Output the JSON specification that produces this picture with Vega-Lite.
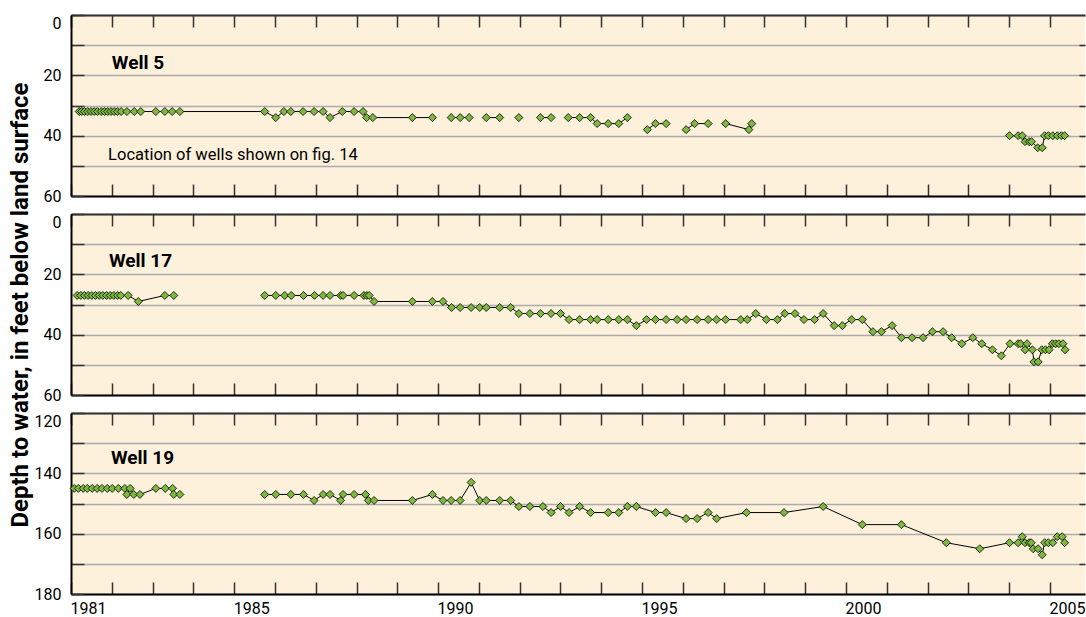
{
  "$schema": "https://vega.github.io/schema/vega-lite/v6.json",
  "padding": {"top": 14, "left": 8, "right": 0, "bottom": 0},
  "spacing": 18,
  "bounds": "flush",
  "config": {
    "font": "Roboto",
    "view": {"fill": "#FDF1DC", "stroke": null},
    "axis": {"labelFont": "Roboto", "titleFont": "Roboto", "labelColor": "black", "titleColor": "black"}
  },
  "datasets": {
    "w5": [
      {"year": 1981.2, "depth": 32, "seg": 1}, {"year": 1981.26, "depth": 32, "seg": 1}, {"year": 1981.33, "depth": 32, "seg": 1}, {"year": 1981.41, "depth": 32, "seg": 1},
      {"year": 1981.49, "depth": 32, "seg": 1}, {"year": 1981.57, "depth": 32, "seg": 1}, {"year": 1981.65, "depth": 32, "seg": 1}, {"year": 1981.74, "depth": 32, "seg": 1},
      {"year": 1981.82, "depth": 32, "seg": 1}, {"year": 1981.9, "depth": 32, "seg": 1}, {"year": 1981.98, "depth": 32, "seg": 1}, {"year": 1982.06, "depth": 32, "seg": 1},
      {"year": 1982.14, "depth": 32, "seg": 1}, {"year": 1982.23, "depth": 32, "seg": 1}, {"year": 1982.37, "depth": 32, "seg": 1}, {"year": 1982.55, "depth": 32, "seg": 1},
      {"year": 1982.71, "depth": 32, "seg": 1}, {"year": 1983.08, "depth": 32, "seg": 1}, {"year": 1983.3, "depth": 32, "seg": 1}, {"year": 1983.48, "depth": 32, "seg": 1},
      {"year": 1983.67, "depth": 32, "seg": 1}, {"year": 1985.75, "depth": 32, "seg": 1}, {"year": 1986.02, "depth": 34, "seg": 1}, {"year": 1986.22, "depth": 32, "seg": 1},
      {"year": 1986.39, "depth": 32, "seg": 1}, {"year": 1986.69, "depth": 32, "seg": 1}, {"year": 1986.96, "depth": 32, "seg": 1}, {"year": 1987.18, "depth": 32, "seg": 1},
      {"year": 1987.35, "depth": 34, "seg": 1}, {"year": 1987.65, "depth": 32, "seg": 1}, {"year": 1987.94, "depth": 32, "seg": 1}, {"year": 1988.16, "depth": 32, "seg": 1},
      {"year": 1988.25, "depth": 34, "seg": 1}, {"year": 1988.4, "depth": 34, "seg": 1}, {"year": 1989.37, "depth": 34, "seg": 1}, {"year": 1989.86, "depth": 34, "seg": 1},
      {"year": 1990.32, "depth": 34, "seg": 2}, {"year": 1990.54, "depth": 34, "seg": 2}, {"year": 1990.76, "depth": 34, "seg": 2},
      {"year": 1991.18, "depth": 34, "seg": 3}, {"year": 1991.51, "depth": 34, "seg": 3},
      {"year": 1991.98, "depth": 34, "seg": 4},
      {"year": 1992.51, "depth": 34, "seg": 5}, {"year": 1992.77, "depth": 34, "seg": 5},
      {"year": 1993.19, "depth": 34, "seg": 6}, {"year": 1993.47, "depth": 34, "seg": 6}, {"year": 1993.74, "depth": 34, "seg": 6}, {"year": 1993.9, "depth": 36, "seg": 6},
      {"year": 1994.17, "depth": 36, "seg": 6}, {"year": 1994.43, "depth": 36, "seg": 6}, {"year": 1994.64, "depth": 34, "seg": 6},
      {"year": 1995.13, "depth": 38, "seg": 7}, {"year": 1995.33, "depth": 36, "seg": 7}, {"year": 1995.59, "depth": 36, "seg": 7},
      {"year": 1996.08, "depth": 38, "seg": 8}, {"year": 1996.29, "depth": 36, "seg": 8}, {"year": 1996.62, "depth": 36, "seg": 8},
      {"year": 1997.05, "depth": 36, "seg": 9}, {"year": 1997.62, "depth": 38, "seg": 9}, {"year": 1997.69, "depth": 36, "seg": 9},
      {"year": 2004.01, "depth": 40, "seg": 10}, {"year": 2004.22, "depth": 40, "seg": 10}, {"year": 2004.32, "depth": 40, "seg": 10}, {"year": 2004.39, "depth": 42, "seg": 10},
      {"year": 2004.49, "depth": 42, "seg": 10}, {"year": 2004.55, "depth": 42, "seg": 10}, {"year": 2004.7, "depth": 44, "seg": 10}, {"year": 2004.81, "depth": 44, "seg": 10},
      {"year": 2004.87, "depth": 40, "seg": 10}, {"year": 2004.96, "depth": 40, "seg": 10}, {"year": 2005.07, "depth": 40, "seg": 10}, {"year": 2005.18, "depth": 40, "seg": 10},
      {"year": 2005.28, "depth": 40, "seg": 10}, {"year": 2005.36, "depth": 40, "seg": 10}
    ],
    "w17": [
      {"year": 1981.15, "depth": 27, "seg": 1}, {"year": 1981.24, "depth": 27, "seg": 1}, {"year": 1981.33, "depth": 27, "seg": 1}, {"year": 1981.42, "depth": 27, "seg": 1},
      {"year": 1981.51, "depth": 27, "seg": 1}, {"year": 1981.6, "depth": 27, "seg": 1}, {"year": 1981.69, "depth": 27, "seg": 1}, {"year": 1981.78, "depth": 27, "seg": 1},
      {"year": 1981.87, "depth": 27, "seg": 1}, {"year": 1981.96, "depth": 27, "seg": 1}, {"year": 1982.05, "depth": 27, "seg": 1}, {"year": 1982.14, "depth": 27, "seg": 1},
      {"year": 1982.22, "depth": 27, "seg": 1}, {"year": 1982.4, "depth": 27, "seg": 1}, {"year": 1982.65, "depth": 29, "seg": 1}, {"year": 1983.3, "depth": 27, "seg": 1},
      {"year": 1983.52, "depth": 27, "seg": 1},
      {"year": 1985.75, "depth": 27, "seg": 2}, {"year": 1986.02, "depth": 27, "seg": 2}, {"year": 1986.24, "depth": 27, "seg": 2}, {"year": 1986.4, "depth": 27, "seg": 2},
      {"year": 1986.7, "depth": 27, "seg": 2}, {"year": 1986.97, "depth": 27, "seg": 2}, {"year": 1987.18, "depth": 27, "seg": 2}, {"year": 1987.35, "depth": 27, "seg": 2},
      {"year": 1987.61, "depth": 27, "seg": 2}, {"year": 1987.67, "depth": 27, "seg": 2}, {"year": 1987.94, "depth": 27, "seg": 2}, {"year": 1988.18, "depth": 27, "seg": 2},
      {"year": 1988.25, "depth": 27, "seg": 2}, {"year": 1988.31, "depth": 27, "seg": 2}, {"year": 1988.43, "depth": 29, "seg": 2}, {"year": 1989.37, "depth": 29, "seg": 2},
      {"year": 1989.86, "depth": 29, "seg": 2}, {"year": 1990.12, "depth": 29, "seg": 2}, {"year": 1990.33, "depth": 31, "seg": 2}, {"year": 1990.54, "depth": 31, "seg": 2},
      {"year": 1990.81, "depth": 31, "seg": 2}, {"year": 1991.02, "depth": 31, "seg": 2}, {"year": 1991.18, "depth": 31, "seg": 2}, {"year": 1991.51, "depth": 31, "seg": 2},
      {"year": 1991.78, "depth": 31, "seg": 2}, {"year": 1991.98, "depth": 33, "seg": 2}, {"year": 1992.25, "depth": 33, "seg": 2}, {"year": 1992.51, "depth": 33, "seg": 2},
      {"year": 1992.77, "depth": 33, "seg": 2}, {"year": 1993.0, "depth": 33, "seg": 2}, {"year": 1993.21, "depth": 35, "seg": 2}, {"year": 1993.47, "depth": 35, "seg": 2},
      {"year": 1993.74, "depth": 35, "seg": 2}, {"year": 1993.9, "depth": 35, "seg": 2}, {"year": 1994.17, "depth": 35, "seg": 2}, {"year": 1994.43, "depth": 35, "seg": 2},
      {"year": 1994.64, "depth": 35, "seg": 2}, {"year": 1994.86, "depth": 37, "seg": 2}, {"year": 1995.11, "depth": 35, "seg": 2}, {"year": 1995.33, "depth": 35, "seg": 2},
      {"year": 1995.59, "depth": 35, "seg": 2}, {"year": 1995.86, "depth": 35, "seg": 2}, {"year": 1996.08, "depth": 35, "seg": 2}, {"year": 1996.35, "depth": 35, "seg": 2},
      {"year": 1996.62, "depth": 35, "seg": 2}, {"year": 1996.83, "depth": 35, "seg": 2}, {"year": 1997.05, "depth": 35, "seg": 2}, {"year": 1997.42, "depth": 35, "seg": 2},
      {"year": 1997.58, "depth": 35, "seg": 2}, {"year": 1997.79, "depth": 33, "seg": 2}, {"year": 1998.05, "depth": 35, "seg": 2}, {"year": 1998.32, "depth": 35, "seg": 2},
      {"year": 1998.5, "depth": 33, "seg": 2}, {"year": 1998.75, "depth": 33, "seg": 2}, {"year": 1998.97, "depth": 35, "seg": 2}, {"year": 1999.23, "depth": 35, "seg": 2},
      {"year": 1999.44, "depth": 33, "seg": 2}, {"year": 1999.71, "depth": 37, "seg": 2}, {"year": 1999.91, "depth": 37, "seg": 2}, {"year": 2000.14, "depth": 35, "seg": 2},
      {"year": 2000.4, "depth": 35, "seg": 2}, {"year": 2000.66, "depth": 39, "seg": 2}, {"year": 2000.87, "depth": 39, "seg": 2}, {"year": 2001.13, "depth": 37, "seg": 2},
      {"year": 2001.36, "depth": 41, "seg": 2}, {"year": 2001.62, "depth": 41, "seg": 2}, {"year": 2001.89, "depth": 41, "seg": 2}, {"year": 2002.12, "depth": 39, "seg": 2},
      {"year": 2002.38, "depth": 39, "seg": 2}, {"year": 2002.59, "depth": 41, "seg": 2}, {"year": 2002.84, "depth": 43, "seg": 2}, {"year": 2003.11, "depth": 41, "seg": 2},
      {"year": 2003.33, "depth": 43, "seg": 2}, {"year": 2003.59, "depth": 45, "seg": 2}, {"year": 2003.81, "depth": 47, "seg": 2}, {"year": 2004.02, "depth": 43, "seg": 2},
      {"year": 2004.22, "depth": 43, "seg": 2}, {"year": 2004.28, "depth": 43, "seg": 2}, {"year": 2004.39, "depth": 45, "seg": 2}, {"year": 2004.44, "depth": 43, "seg": 2},
      {"year": 2004.57, "depth": 45, "seg": 2}, {"year": 2004.61, "depth": 49, "seg": 2}, {"year": 2004.71, "depth": 49, "seg": 2}, {"year": 2004.8, "depth": 45, "seg": 2},
      {"year": 2004.89, "depth": 45, "seg": 2}, {"year": 2004.98, "depth": 45, "seg": 2}, {"year": 2005.06, "depth": 43, "seg": 2}, {"year": 2005.14, "depth": 43, "seg": 2},
      {"year": 2005.22, "depth": 43, "seg": 2}, {"year": 2005.32, "depth": 43, "seg": 2}, {"year": 2005.37, "depth": 45, "seg": 2}
    ],
    "w19": [
      {"year": 1981.08, "depth": 145, "seg": 1}, {"year": 1981.18, "depth": 145, "seg": 1}, {"year": 1981.3, "depth": 145, "seg": 1}, {"year": 1981.4, "depth": 145, "seg": 1},
      {"year": 1981.52, "depth": 145, "seg": 1}, {"year": 1981.64, "depth": 145, "seg": 1}, {"year": 1981.76, "depth": 145, "seg": 1}, {"year": 1981.89, "depth": 145, "seg": 1},
      {"year": 1982.01, "depth": 145, "seg": 1}, {"year": 1982.16, "depth": 145, "seg": 1}, {"year": 1982.32, "depth": 145, "seg": 1}, {"year": 1982.37, "depth": 147, "seg": 1},
      {"year": 1982.45, "depth": 145, "seg": 1}, {"year": 1982.54, "depth": 147, "seg": 1}, {"year": 1982.69, "depth": 147, "seg": 1}, {"year": 1983.08, "depth": 145, "seg": 1},
      {"year": 1983.31, "depth": 145, "seg": 1}, {"year": 1983.49, "depth": 145, "seg": 1}, {"year": 1983.52, "depth": 147, "seg": 1}, {"year": 1983.67, "depth": 147, "seg": 1},
      {"year": 1985.75, "depth": 147, "seg": 2}, {"year": 1986.02, "depth": 147, "seg": 2}, {"year": 1986.39, "depth": 147, "seg": 2}, {"year": 1986.7, "depth": 147, "seg": 2},
      {"year": 1986.96, "depth": 149, "seg": 2}, {"year": 1987.18, "depth": 147, "seg": 2}, {"year": 1987.35, "depth": 147, "seg": 2}, {"year": 1987.61, "depth": 149, "seg": 2},
      {"year": 1987.67, "depth": 147, "seg": 2}, {"year": 1987.94, "depth": 147, "seg": 2}, {"year": 1988.22, "depth": 147, "seg": 2}, {"year": 1988.29, "depth": 149, "seg": 2},
      {"year": 1988.43, "depth": 149, "seg": 2}, {"year": 1989.37, "depth": 149, "seg": 2}, {"year": 1989.86, "depth": 147, "seg": 2}, {"year": 1990.12, "depth": 149, "seg": 2},
      {"year": 1990.32, "depth": 149, "seg": 2}, {"year": 1990.54, "depth": 149, "seg": 2}, {"year": 1990.81, "depth": 143, "seg": 2}, {"year": 1991.02, "depth": 149, "seg": 2},
      {"year": 1991.18, "depth": 149, "seg": 2}, {"year": 1991.51, "depth": 149, "seg": 2}, {"year": 1991.78, "depth": 149, "seg": 2}, {"year": 1991.98, "depth": 151, "seg": 2},
      {"year": 1992.25, "depth": 151, "seg": 2}, {"year": 1992.57, "depth": 151, "seg": 2}, {"year": 1992.77, "depth": 153, "seg": 2}, {"year": 1993.0, "depth": 151, "seg": 2},
      {"year": 1993.21, "depth": 153, "seg": 2}, {"year": 1993.47, "depth": 151, "seg": 2}, {"year": 1993.74, "depth": 153, "seg": 2}, {"year": 1994.17, "depth": 153, "seg": 2},
      {"year": 1994.43, "depth": 153, "seg": 2}, {"year": 1994.64, "depth": 151, "seg": 2}, {"year": 1994.86, "depth": 151, "seg": 2}, {"year": 1995.33, "depth": 153, "seg": 2},
      {"year": 1995.59, "depth": 153, "seg": 2}, {"year": 1996.08, "depth": 155, "seg": 2}, {"year": 1996.35, "depth": 155, "seg": 2}, {"year": 1996.62, "depth": 153, "seg": 2},
      {"year": 1996.83, "depth": 155, "seg": 2}, {"year": 1997.56, "depth": 153, "seg": 2}, {"year": 1998.48, "depth": 153, "seg": 2}, {"year": 1999.44, "depth": 151, "seg": 2},
      {"year": 2000.4, "depth": 157, "seg": 2}, {"year": 2001.36, "depth": 157, "seg": 2}, {"year": 2002.46, "depth": 163, "seg": 2}, {"year": 2003.28, "depth": 165, "seg": 2},
      {"year": 2004.01, "depth": 163, "seg": 2}, {"year": 2004.22, "depth": 163, "seg": 2}, {"year": 2004.32, "depth": 161, "seg": 2}, {"year": 2004.39, "depth": 163, "seg": 2},
      {"year": 2004.49, "depth": 163, "seg": 2}, {"year": 2004.54, "depth": 163, "seg": 2}, {"year": 2004.59, "depth": 165, "seg": 2}, {"year": 2004.71, "depth": 165, "seg": 2},
      {"year": 2004.81, "depth": 167, "seg": 2}, {"year": 2004.87, "depth": 163, "seg": 2}, {"year": 2004.96, "depth": 163, "seg": 2}, {"year": 2005.07, "depth": 163, "seg": 2},
      {"year": 2005.18, "depth": 161, "seg": 2}, {"year": 2005.3, "depth": 161, "seg": 2}, {"year": 2005.36, "depth": 163, "seg": 2}
    ]
  },
  "vconcat": [
    {
      "width": 1014, "height": 181,
      "layer": [
        {
          "data": {"name": "w5"},
          "mark": {"type": "line", "color": "black", "strokeWidth": 1},
          "encoding": {
            "x": {"field": "year", "type": "quantitative", "scale": {"domain": [1981, 2005.86], "nice": false, "zero": false},
              "axis": {"orient": "bottom", "values": [1981,1982,1983,1984,1985,1986,1987,1988,1989,1990,1991,1992,1993,1994,1995,1996,1997,1998,1999,2000,2001,2002,2003,2004,2005], "tickSize": -12, "tickColor": "#333", "tickWidth": 1.5, "labels": false, "title": null, "grid": false, "domainColor": "black", "domainWidth": 2}},
            "y": {"field": "depth", "type": "quantitative", "scale": {"domain": [0, 60], "reverse": true, "nice": false, "zero": false},
              "axis": {"orient": "left", "values": [0,10,20,30,40,50,60], "tickSize": -13, "tickColor": "#333", "tickWidth": 1.5, "labelPadding": 23, "labelFontSize": 16, "labelExpr": "datum.value % 20 == 0 ? datum.label : ''", "labelBaseline": {"condition": {"test": "datum.value == 0", "value": "top"}, "value": "middle"}, "grid": true, "gridColor": "#ABABAB", "gridWidth": 1.5, "domainColor": "black", "domainWidth": 2, "title": null}},
            "detail": {"field": "seg", "type": "nominal"}
          }
        },
        {
          "data": {"name": "w5"},
          "mark": {"type": "point", "shape": "diamond", "filled": true, "fill": "#7DB83F", "stroke": "black", "strokeWidth": 0.8, "size": 64, "opacity": 1},
          "encoding": {
            "x": {"field": "year", "type": "quantitative", "scale": {"domain": [1981, 2005.86], "nice": false, "zero": false}, "axis": null},
            "y": {"field": "depth", "type": "quantitative", "scale": {"domain": [0, 60], "reverse": true, "nice": false, "zero": false}, "axis": null}
          }
        },
        {
          "data": {"values": [{"year": 1982.0, "depth": 16, "label": "Well 5"}]},
          "mark": {"type": "text", "fontWeight": "bold", "fontSize": 19, "align": "left", "baseline": "middle", "color": "black"},
          "encoding": {
            "x": {"field": "year", "type": "quantitative", "scale": {"domain": [1981, 2005.86], "nice": false, "zero": false},
              "axis": {"orient": "top", "values": [1981,1982,1983,1984,1985,1986,1987,1988,1989,1990,1991,1992,1993,1994,1995,1996,1997,1998,1999,2000,2001,2002,2003,2004,2005], "tickSize": -12, "tickColor": "#333", "tickWidth": 1.5, "labels": false, "title": null, "grid": false, "domainColor": "#333", "domainWidth": 2}},
            "y": {"field": "depth", "type": "quantitative", "scale": {"domain": [0, 60], "reverse": true, "nice": false, "zero": false},
              "axis": {"orient": "right", "values": [10,20,30,40,50], "tickSize": -6, "tickColor": "#333", "tickWidth": 1.5, "labels": false, "domain": false, "grid": false, "title": null}},
            "text": {"field": "label"}
          }
        },
        {
          "data": {"values": [{"year": 1981.91, "depth": 46.3, "label": "Location of wells shown on fig. 14"}]},
          "mark": {"type": "text", "fontSize": 16.5, "align": "left", "baseline": "middle", "color": "black"},
          "encoding": {
            "x": {"field": "year", "type": "quantitative", "scale": {"domain": [1981, 2005.86], "nice": false, "zero": false}, "axis": null},
            "y": {"field": "depth", "type": "quantitative", "scale": {"domain": [0, 60], "reverse": true, "nice": false, "zero": false}, "axis": null},
            "text": {"field": "label"}
          }
        }
      ],
      "resolve": {"axis": {"x": "independent", "y": "independent"}}
    },
    {
      "width": 1014, "height": 181,
      "layer": [
        {
          "data": {"name": "w17"},
          "mark": {"type": "line", "color": "black", "strokeWidth": 1},
          "encoding": {
            "x": {"field": "year", "type": "quantitative", "scale": {"domain": [1981, 2005.86], "nice": false, "zero": false},
              "axis": {"orient": "bottom", "values": [1981,1982,1983,1984,1985,1986,1987,1988,1989,1990,1991,1992,1993,1994,1995,1996,1997,1998,1999,2000,2001,2002,2003,2004,2005], "tickSize": -12, "tickColor": "#333", "tickWidth": 1.5, "labels": false, "title": null, "grid": false, "domainColor": "black", "domainWidth": 2}},
            "y": {"field": "depth", "type": "quantitative", "scale": {"domain": [0, 60], "reverse": true, "nice": false, "zero": false},
              "axis": {"orient": "left", "values": [0,10,20,30,40,50,60], "tickSize": -13, "tickColor": "#333", "tickWidth": 1.5, "labelPadding": 23, "labelFontSize": 16, "labelExpr": "datum.value % 20 == 0 ? datum.label : ''", "labelBaseline": {"condition": {"test": "datum.value == 0", "value": "top"}, "value": "middle"}, "grid": true, "gridColor": "#ABABAB", "gridWidth": 1.5, "domainColor": "black", "domainWidth": 2,
                "title": "Depth to water, in feet below land surface", "titleFontSize": 24, "titleFontWeight": "bold", "titlePadding": 11}},
            "detail": {"field": "seg", "type": "nominal"}
          }
        },
        {
          "data": {"name": "w17"},
          "mark": {"type": "point", "shape": "diamond", "filled": true, "fill": "#7DB83F", "stroke": "black", "strokeWidth": 0.8, "size": 64, "opacity": 1},
          "encoding": {
            "x": {"field": "year", "type": "quantitative", "scale": {"domain": [1981, 2005.86], "nice": false, "zero": false}, "axis": null},
            "y": {"field": "depth", "type": "quantitative", "scale": {"domain": [0, 60], "reverse": true, "nice": false, "zero": false}, "axis": null}
          }
        },
        {
          "data": {"values": [{"year": 1981.93, "depth": 15.5, "label": "Well 17"}]},
          "mark": {"type": "text", "fontWeight": "bold", "fontSize": 19, "align": "left", "baseline": "middle", "color": "black"},
          "encoding": {
            "x": {"field": "year", "type": "quantitative", "scale": {"domain": [1981, 2005.86], "nice": false, "zero": false},
              "axis": {"orient": "top", "values": [1981,1982,1983,1984,1985,1986,1987,1988,1989,1990,1991,1992,1993,1994,1995,1996,1997,1998,1999,2000,2001,2002,2003,2004,2005], "tickSize": -12, "tickColor": "#333", "tickWidth": 1.5, "labels": false, "title": null, "grid": false, "domainColor": "#333", "domainWidth": 2}},
            "y": {"field": "depth", "type": "quantitative", "scale": {"domain": [0, 60], "reverse": true, "nice": false, "zero": false},
              "axis": {"orient": "right", "values": [10,20,30,40,50], "tickSize": -6, "tickColor": "#333", "tickWidth": 1.5, "labels": false, "domain": false, "grid": false, "title": null}},
            "text": {"field": "label"}
          }
        }
      ],
      "resolve": {"axis": {"x": "independent", "y": "independent"}}
    },
    {
      "width": 1014, "height": 181,
      "layer": [
        {
          "data": {"name": "w19"},
          "mark": {"type": "line", "color": "black", "strokeWidth": 1},
          "encoding": {
            "x": {"field": "year", "type": "quantitative", "scale": {"domain": [1981, 2005.86], "nice": false, "zero": false},
              "axis": {"orient": "bottom", "values": [1981,1982,1983,1984,1985,1986,1987,1988,1989,1990,1991,1992,1993,1994,1995,1996,1997,1998,1999,2000,2001,2002,2003,2004,2005], "tickSize": -12, "tickColor": "#333", "tickWidth": 1.5, "labelPadding": 18, "labelFontSize": 16, "labelOffset": 17, "labelFlush": false, "labelOverlap": false, "labelExpr": "(datum.value == 1981 || datum.value % 5 == 0) ? format(datum.value, 'd') : ''", "title": null, "grid": false, "domainColor": "black", "domainWidth": 2}},
            "y": {"field": "depth", "type": "quantitative", "scale": {"domain": [120, 180], "reverse": true, "nice": false, "zero": false},
              "axis": {"orient": "left", "values": [120,130,140,150,160,170,180], "tickSize": -13, "tickColor": "#333", "tickWidth": 1.5, "labelPadding": 23, "labelFontSize": 16, "labelExpr": "datum.value % 20 == 0 ? datum.label : ''", "labelBaseline": {"condition": {"test": "datum.value == 120", "value": "top"}, "value": "middle"}, "grid": true, "gridColor": "#ABABAB", "gridWidth": 1.5, "domainColor": "black", "domainWidth": 2, "title": null}},
            "detail": {"field": "seg", "type": "nominal"}
          }
        },
        {
          "data": {"name": "w19"},
          "mark": {"type": "point", "shape": "diamond", "filled": true, "fill": "#7DB83F", "stroke": "black", "strokeWidth": 0.8, "size": 64, "opacity": 1},
          "encoding": {
            "x": {"field": "year", "type": "quantitative", "scale": {"domain": [1981, 2005.86], "nice": false, "zero": false}, "axis": null},
            "y": {"field": "depth", "type": "quantitative", "scale": {"domain": [120, 180], "reverse": true, "nice": false, "zero": false}, "axis": null}
          }
        },
        {
          "data": {"values": [{"year": 1981.98, "depth": 134.9, "label": "Well 19"}]},
          "mark": {"type": "text", "fontWeight": "bold", "fontSize": 19, "align": "left", "baseline": "middle", "color": "black"},
          "encoding": {
            "x": {"field": "year", "type": "quantitative", "scale": {"domain": [1981, 2005.86], "nice": false, "zero": false},
              "axis": {"orient": "top", "values": [1981,1982,1983,1984,1985,1986,1987,1988,1989,1990,1991,1992,1993,1994,1995,1996,1997,1998,1999,2000,2001,2002,2003,2004,2005], "tickSize": -12, "tickColor": "#333", "tickWidth": 1.5, "labels": false, "title": null, "grid": false, "domainColor": "#333", "domainWidth": 2}},
            "y": {"field": "depth", "type": "quantitative", "scale": {"domain": [120, 180], "reverse": true, "nice": false, "zero": false},
              "axis": {"orient": "right", "values": [130,140,150,160,170], "tickSize": -6, "tickColor": "#333", "tickWidth": 1.5, "labels": false, "domain": false, "grid": false, "title": null}},
            "text": {"field": "label"}
          }
        }
      ],
      "resolve": {"axis": {"x": "independent", "y": "independent"}}
    }
  ]
}
